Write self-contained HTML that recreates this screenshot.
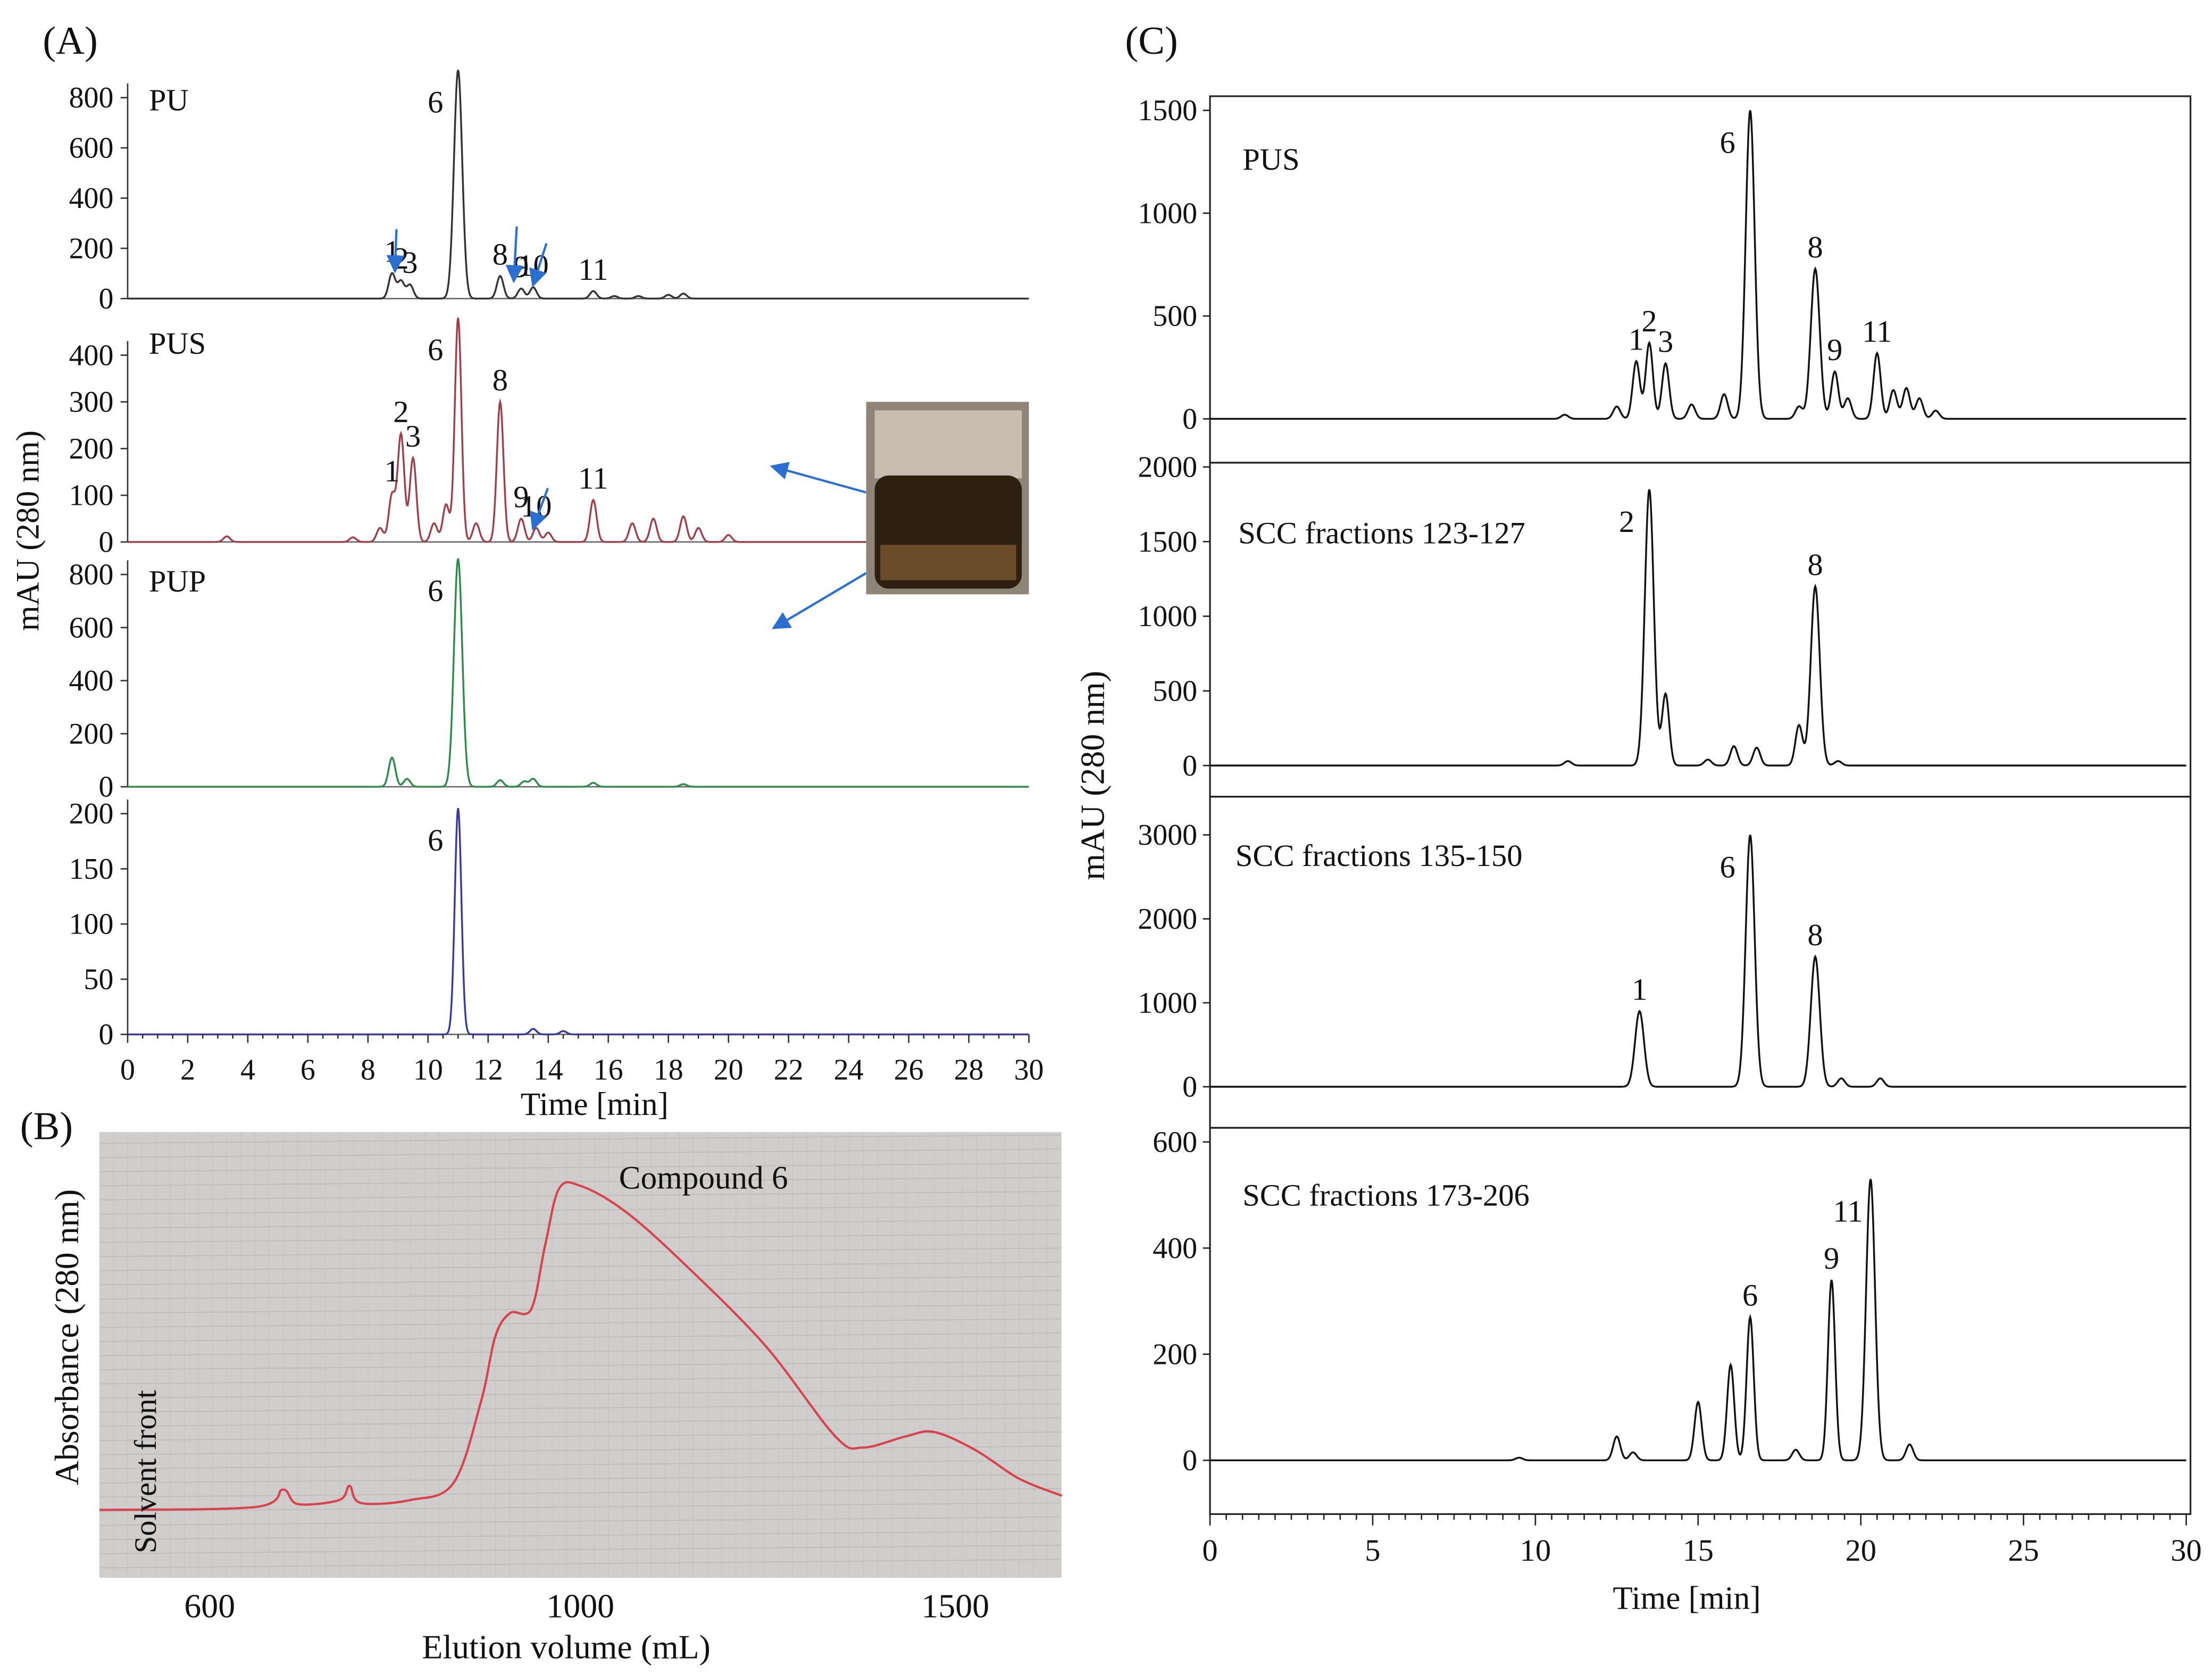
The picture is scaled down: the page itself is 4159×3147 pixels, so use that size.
<!DOCTYPE html>
<html><head><meta charset="utf-8">
<style>
html,body{margin:0;padding:0;background:#fff}
svg{display:block}
text{font-family:"Liberation Serif",serif;fill:#111}
</style></head>
<body>
<svg id="fig" xmlns="http://www.w3.org/2000/svg" width="4159" height="3147" viewBox="0 0 1563 1183">
<rect width="1563" height="1183" fill="#fff"/>
<text x="30" y="38" font-size="28">(A)</text>
<text x="795" y="38" font-size="28">(C)</text>
<text x="14" y="805" font-size="28">(B)</text>
</svg>
<script>
// ===== Panel A data =====
const aTimeTicks=[0,2,4,6,8,10,12,14,16,18,20,22,24,26,28,30];
const puTimes=[8.8,9.1,9.4,11.0,12.4,13.1,13.5,15.5,17.0,18.0,18.5,16.2];
const puVals=[100,70,55,910,90,40,45,30,10,15,20,10];
const puLabels=['1','2','3','6','8','9','10','11','','','',''];
const pusTimes=[8.4,8.8,9.1,9.5,10.2,10.6,11.0,11.6,12.4,13.1,13.6,14.0,15.5,16.8,17.5,18.5,19.0,20.0,3.3,7.5];
const pusVals=[30,100,230,180,40,80,480,40,300,50,30,20,90,40,50,55,30,15,12,10];
const pusLabels=['','1','2','3','','','6','','8','9','10','','11','','','','','','',''];
const pupTimes=[8.8,9.3,11.0,12.4,13.2,13.5,15.5,18.5];
const pupVals=[110,30,860,25,20,30,15,10];
const pupLabels=['','','6','','','','',''];
const stdTimes=[11.0,13.5,14.5];
const stdVals=[205,5,3];
const stdLabels=['6','',''];
// ===== Panel C data =====
const cTimeTicks=[0,5,10,15,20,25,30];
const c1Times=[10.9,12.5,13.1,13.5,14.0,14.8,15.8,16.6,18.1,18.6,19.2,19.6,20.5,21.0,21.4,21.8,22.3];
const c1Vals=[20,60,280,370,270,70,120,1500,60,730,230,100,320,140,150,100,40];
const c1Labels=['','','1','2','3','','','6','','8','9','','11','','','',''];
const c2Times=[11.0,13.5,14.0,15.3,16.1,16.8,18.1,18.6,19.3];
const c2Vals=[30,1850,480,40,130,120,270,1200,30];
const c2Labels=['','2','','','','','','8',''];
const c3Times=[13.2,16.6,18.6,19.4,20.6];
const c3Vals=[900,3000,1550,100,100];
const c3Labels=['1','6','8','',''];
const c4Times=[9.5,12.5,13.0,15.0,16.0,16.6,18.0,19.1,20.3,21.5];
const c4Vals=[5,45,15,110,180,270,20,340,530,30];
const c4Labels=['','','','','','6','','9','11',''];
// ===== Panel B data =====
const bVolTicks=[600,1000,1500];
const bVolumes=[481,649,679,695,740,751,763,817,863,893,908,924,947,962,977,1000,1057,1132,1245,1340,1377,1434,1472,1528,1585,1642];
const bAbs=[0,1,7,2,3.4,8.3,2.4,3.4,9.3,37.7,59.7,68,69.4,91.5,111,112,103.7,86.6,57.2,25.4,21.5,25.4,26.9,20.5,10.8,4.9];

const NS="http://www.w3.org/2000/svg";
const svg=document.getElementById('fig');
function el(tag,attrs,parent){const e=document.createElementNS(NS,tag);for(const k in attrs)e.setAttribute(k,attrs[k]);(parent||svg).appendChild(e);return e;}
function txt(x,y,s,size,anchor,parent){const t=el('text',{x:x,y:y,'font-size':size,'text-anchor':anchor||'start'},parent);t.textContent=s;return t;}
function lin(d0,d1,r0,r1){return v=>r0+(v-d0)/(d1-d0)*(r1-r0);}
function signal(times,vals,t,w){let s=0;for(let i=0;i<times.length;i++){const ww=vals[i]>500?w*1.25:w;s+=vals[i]*Math.exp(-0.5*((t-times[i])/ww)**2);}return s;}
function trace(times,vals,labels,xs,ys,t0,t1,w,color,name,lblSize){
  let d='';for(let t=t0;t<=t1;t+=0.02){const px=xs(t),py=ys(signal(times,vals,t,w));d+=(d?'L':'M')+px.toFixed(2)+','+py.toFixed(2);}
  const p=el('path',{d:d,fill:'none',stroke:color,'stroke-width':1.3});
  
  
  const base=ys(0);
  for(let i=0;i<times.length;i++){if(!labels[i])continue;
    const top=ys(signal(times,vals,times[i],w));
    let x=xs(times[i]),y=top-8;
    if(base-top>140){x-=16;y=top+30;}
    const t=txt(x,y,labels[i],lblSize,'middle');
    
    }
}
// ---------- Panel A ----------
const axA=lin(0,30,90,727);
const subA=[
 {name:'pu',label:'PU',y0:211,vTop:800,yTop:69,ticks:[0,200,400,600,800],t:puTimes,v:puVals,l:puLabels,c:'#333',ly:78},
 {name:'pus',label:'PUS',y0:383,vTop:400,yTop:251,ticks:[0,100,200,300,400],t:pusTimes,v:pusVals,l:pusLabels,c:'#a0404a',ly:250},
 {name:'pup',label:'PUP',y0:556,vTop:800,yTop:406,ticks:[0,200,400,600,800],t:pupTimes,v:pupVals,l:pupLabels,c:'#2e8b4a',ly:418},
 {name:'standard',label:'',y0:731,vTop:200,yTop:575,ticks:[0,50,100,150,200],t:stdTimes,v:stdVals,l:stdLabels,c:'#3a3a9a',ly:0}
];
subA.forEach((s,i)=>{
  const g=el('g',{});
  const ys=lin(0,s.vTop,s.y0,s.yTop);
  el('line',{x1:90,y1:ys(s.ticks[s.ticks.length-1])-10,x2:90,y2:s.y0,stroke:'#333','stroke-width':1},g);
  el('line',{x1:90,y1:s.y0,x2:727,y2:s.y0,stroke:'#666','stroke-width':1},g);
  s.ticks.forEach(v=>{el('line',{x1:85,y1:ys(v),x2:90,y2:ys(v),stroke:'#333'},g);
    const t=txt(80,ys(v)+7,String(v),21,'end',g);});
  if(s.label){const t=txt(105,s.ly,s.label,22,'start',g);}
  trace(s.t,s.v,s.l,axA,ys,0,30,0.11,s.c,'trace-'+s.name,22);
});
for(let t=0;t<=30;t+=0.5){el('line',{x1:axA(t),y1:731,x2:axA(t),y2:t%2===0?737:734,stroke:'#333'});}
aTimeTicks.forEach(v=>{const t=txt(axA(v),763,String(v),21,'middle');});
let tt=txt(420,788,'Time [min]',23,'middle');
tt=txt(0,0,'mAU (280 nm)',23,'middle');tt.setAttribute('transform','translate(27,375) rotate(-90)');
svg.insertAdjacentHTML('beforeend','<defs><marker id="ah" markerWidth="8" markerHeight="8" refX="6" refY="4" orient="auto"><path d="M0,0L8,4L0,8z" fill="#2b6fd0"/></marker></defs>');
const arrows=[[280,162,279,190],[365,160,363,197],[386,172,377,200],[387,345,377,372],[612,348,547,330],[612,405,548,443],[490,848,476,882]];
arrows.forEach(a=>{const l=el('line',{x1:a[0],y1:a[1],x2:a[2],y2:a[3],stroke:'#2b6fd0','stroke-width':1.6,'marker-end':'url(#ah)'});});
const ph=el('g',{});
el('rect',{x:612,y:284,width:115,height:136,fill:'#8e8478'},ph);
el('rect',{x:618,y:290,width:104,height:48,fill:'#c8bdb0'},ph);
el('rect',{x:618,y:336,width:104,height:80,rx:10,fill:'#2e2010'},ph);
el('rect',{x:622,y:385,width:96,height:25,fill:'#6a4c28'},ph);
// ---------- Panel C ----------
const axC=lin(0,30,855,1545);
const subC=[
 {name:'pus',title:'PUS',top:68,bot:327,y0:296,vTop:1500,yTop:78,ticks:[0,500,1000,1500],t:c1Times,v:c1Vals,l:c1Labels,tx:878,ty:120},
 {name:'scc-123-127',title:'SCC fractions 123-127',top:327,bot:563,y0:541,vTop:2000,yTop:330,ticks:[0,500,1000,1500,2000],t:c2Times,v:c2Vals,l:c2Labels,tx:875,ty:384},
 {name:'scc-135-150',title:'SCC fractions 135-150',top:563,bot:797,y0:768,vTop:3000,yTop:590,ticks:[0,1000,2000,3000],t:c3Times,v:c3Vals,l:c3Labels,tx:873,ty:612},
 {name:'scc-173-206',title:'SCC fractions 173-206',top:797,bot:1070,y0:1032,vTop:600,yTop:807,ticks:[0,200,400,600],t:c4Times,v:c4Vals,l:c4Labels,tx:878,ty:852}
];
subC.forEach(s=>{
  const g=el('g',{});
  const ys=lin(0,s.vTop,s.y0,s.yTop);
  el('rect',{x:855,y:s.top,width:693,height:s.bot-s.top,fill:'none',stroke:'#222','stroke-width':1.2},g);
  s.ticks.forEach(v=>{el('line',{x1:850,y1:ys(v),x2:855,y2:ys(v),stroke:'#222'},g);
    const t=txt(846,ys(v)+7,String(v),21,'end',g);});
  const t=txt(s.tx,s.ty,s.title,22,'start',g);
  trace(s.t,s.v,s.l,axC,ys,0,30,0.11,'#111','trace-c-'+s.name,22);
});
for(let t=0;t<=30;t+=0.5){el('line',{x1:axC(t),y1:1070,x2:axC(t),y2:t%5===0?1078:1074,stroke:'#222'});}
cTimeTicks.forEach(v=>{const t=txt(axC(v),1103,String(v),22,'middle');});
tt=txt(1192,1137,'Time [min]',23,'middle');
tt=txt(0,0,'mAU (280 nm)',24,'middle');tt.setAttribute('transform','translate(780,548) rotate(-90)');
// ---------- Panel B ----------
const bg=el('g',{});
el('rect',{x:70,y:800,width:680,height:315,fill:'#cfcecc'},bg);
for(let y=808;y<1115;y+=10){el('line',{x1:70,y1:y,x2:750,y2:y-6,stroke:'#bcbbb9','stroke-width':0.6},bg);}
for(let x=80;x<750;x+=10){el('line',{x1:x,y1:800,x2:x,y2:1115,stroke:'#c4c3c1','stroke-width':0.4},bg);}
function bx(v){const d=[600,1000,1500],r=[148,410,675];if(v<=1000)return r[0]+(v-d[0])/(d[1]-d[0])*(r[1]-r[0]);return r[1]+(v-d[1])/(d[2]-d[1])*(r[2]-r[1]);}
const by=lin(0,112,1067,838);
const bpts=bVolumes.map((v,i)=>[bx(v),by(bAbs[i])]);
let bd='M'+bpts[0][0].toFixed(1)+','+bpts[0][1].toFixed(1);
for(let i=0;i<bpts.length-1;i++){const p0=bpts[Math.max(0,i-1)],p1=bpts[i],p2=bpts[i+1],p3=bpts[Math.min(bpts.length-1,i+2)];
  const c1=[p1[0]+(p2[0]-p0[0])/6,p1[1]+(p2[1]-p0[1])/6],c2=[p2[0]-(p3[0]-p1[0])/6,p2[1]-(p3[1]-p1[1])/6];
  bd+='C'+c1.map(n=>n.toFixed(1)).join(',')+' '+c2.map(n=>n.toFixed(1)).join(',')+' '+p2.map(n=>n.toFixed(1)).join(',');}
const bp=el('path',{d:bd,fill:'none',stroke:'#d9434e','stroke-width':1.6,'stroke-linejoin':'round'});


bVolTicks.forEach(v=>{const t=txt(bx(v),1143,String(v),24,'middle');});
tt=txt(400,1172,'Elution volume (mL)',24,'middle');
tt=txt(0,0,'Absorbance (280 nm)',24,'middle');tt.setAttribute('transform','translate(55,945) rotate(-90)');
tt=txt(0,0,'Solvent front',22,'middle');tt.setAttribute('transform','translate(110,1040) rotate(-90)');
tt=txt(497,840,'Compound 6',23,'middle');
</script>
</body></html>
